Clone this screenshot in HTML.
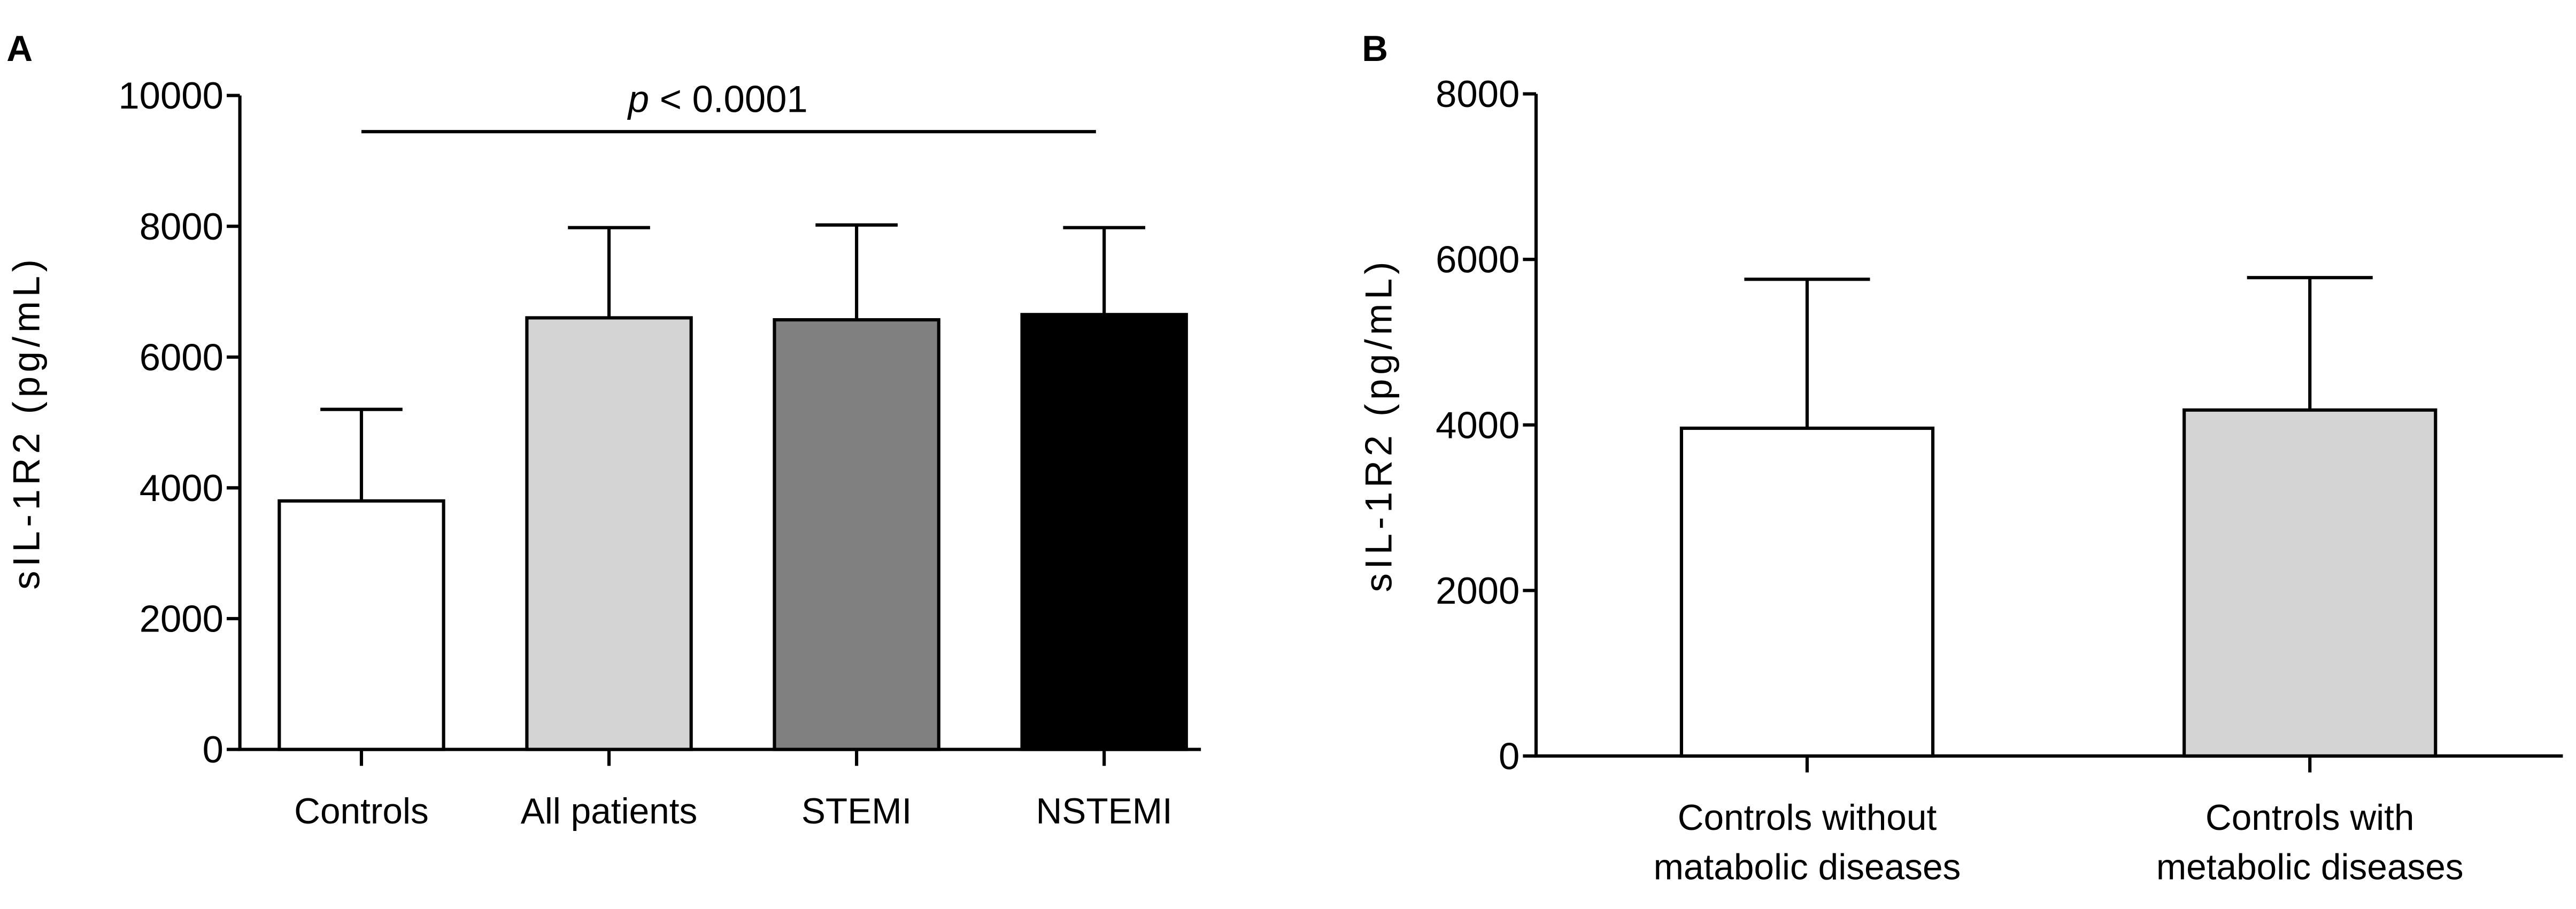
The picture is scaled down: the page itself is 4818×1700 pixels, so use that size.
<!DOCTYPE html>
<html><head><meta charset="utf-8"><style>
html,body{margin:0;padding:0;background:#fff;}
svg{display:block;}
text{font-family:"Liberation Sans",sans-serif;fill:#000;}
</style></head><body>
<svg id="fig" width="4818" height="1700" viewBox="0 0 1568 553">
<text x="4" y="37" font-size="22" font-weight="bold">A</text>
<text x="829" y="37" font-size="22" font-weight="bold">B</text>
<g id="pa"></g>
<g id="pb"></g>
</svg>
<script>
const catsA=["Controls","All patients","STEMI","NSTEMI"];
const meansA=[3800,6600,6570,6650];
const errA=[5200,7980,8020,7980];
const fillsA=["#ffffff","#d4d4d4","#808080","#000000"];
const ticksA=[0,2000,4000,6000,8000,10000];
const catsB=[["Controls without","matabolic diseases"],["Controls with","metabolic diseases"]];
const meansB=[3960,4180];
const errB=[5760,5780];
const fillsB=["#ffffff","#d4d4d4"];
const ticksB=[0,2000,4000,6000,8000];
const NS="http://www.w3.org/2000/svg";
function mk(p,t,a){const e=document.createElementNS(NS,t);for(const k in a)e.setAttribute(k,a[k]);p.appendChild(e);return e;}
function panel(g,cfg){
  const y=v=>cfg.y0-(v/cfg.max)*(cfg.y0-cfg.yTop);
  const x=i=>cfg.x0+cfg.first+i*cfg.step;
  const ax=mk(g,"path",{d:`M${cfg.axX},${cfg.yTop} L${cfg.axX},${cfg.y0} L${cfg.xEnd},${cfg.y0}`,fill:"none",stroke:"#000","stroke-width":2});
  
  
  cfg.ticks.forEach(t=>{
    const l=mk(g,"line",{x1:cfg.axX-8,x2:cfg.axX,y1:y(t),y2:y(t),stroke:"#000","stroke-width":2});
    
    
    const tx=mk(g,"text",{x:cfg.axX-10,y:y(t)+8,"font-size":23,"text-anchor":"end"});
    tx.textContent=t;
    
    
  });
  cfg.means.forEach((m,i)=>{
    const cx=x(i),w=cfg.bw;
    const el=mk(g,"line",{x1:cx,x2:cx,y1:y(cfg.err[i]),y2:y(m),stroke:"#000","stroke-width":2});
    
    
    const cap=mk(g,"line",{x1:cx-w/4,x2:cx+w/4,y1:y(cfg.err[i]),y2:y(cfg.err[i]),stroke:"#000","stroke-width":2});
    
    
    const r=mk(g,"rect",{x:cx-w/2,y:y(m),width:w,height:y(0)-y(m),fill:cfg.fills[i],stroke:"#000","stroke-width":2});
    
    
    const tk=mk(g,"line",{x1:cx,x2:cx,y1:cfg.y0,y2:cfg.y0+10,stroke:"#000","stroke-width":2});
    
    
    const lines=Array.isArray(cfg.cats[i])?cfg.cats[i]:[cfg.cats[i]];
    lines.forEach((s,j)=>{
      const tx=mk(g,"text",{x:cx,y:cfg.y0+45+j*30,"font-size":22,"text-anchor":"middle"});
      tx.textContent=s;
      
      
    });
  });
  const yt=mk(g,"text",{x:0,y:0,"font-size":23,"letter-spacing":"2.5","text-anchor":"middle",transform:`translate(${cfg.titleX},${(cfg.yTop+cfg.y0)/2}) rotate(-90)`});
  yt.textContent="sIL-1R2 (pg/mL)";
  
  
  return {x,y};
}
const A=panel(document.getElementById("pa"),{axX:146,x0:146,first:74,step:150.7,bw:100,yTop:58,y0:456,max:10000,xEnd:731,ticks:ticksA,means:meansA,err:errA,fills:fillsA,cats:catsA,titleX:24});
const gA=document.getElementById("pa");
const sl=mk(gA,"line",{x1:A.x(0),x2:A.x(3)-5,y1:80,y2:80,stroke:"#000","stroke-width":2});


const st=mk(gA,"text",{x:437,y:68,"font-size":23,"text-anchor":"middle"});
st.innerHTML='<tspan font-style="italic">p</tspan> &lt; 0.0001';


panel(document.getElementById("pb"),{axX:935,x0:935,first:165,step:306,bw:153,yTop:57,y0:460,max:8000,xEnd:1560,ticks:ticksB,means:meansB,err:errB,fills:fillsB,cats:catsB,titleX:847});
</script>
</body></html>
